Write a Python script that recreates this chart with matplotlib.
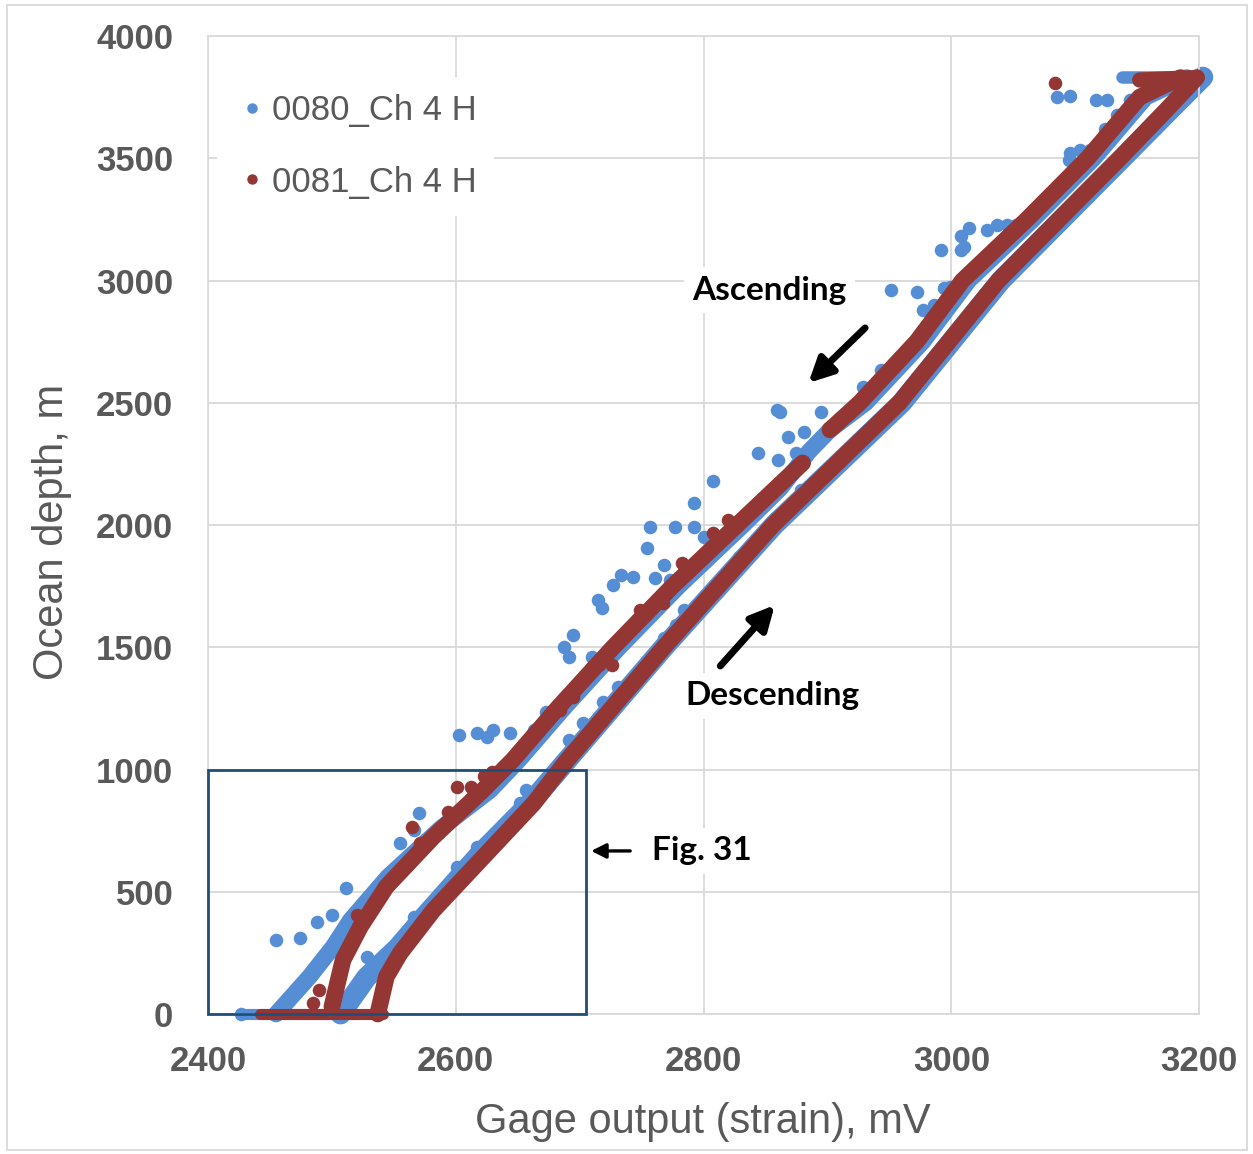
import matplotlib
matplotlib.use("Agg")
import matplotlib.pyplot as plt
from matplotlib.lines import Line2D
from matplotlib.patches import Rectangle

BLUE = "#558ED5"
RED = "#943634"
GRAY = "#595959"
GRID = "#D9D9D9"

# dense parts of the traces, mV vs m
RED_UP1_X = [2500, 2509, 2523, 2544, 2582, 2622, 2646, 2682, 2727, 2775, 2827, 2880]
RED_UP1_Y = [30, 221, 357, 521, 725, 916, 1039, 1250, 1500, 1750, 2000, 2254]
RED_UP2_X = [2902, 2926, 2972, 3009, 3061, 3110, 3152, 3185]
RED_UP2_Y = [2389, 2500, 2750, 3000, 3250, 3500, 3750, 3830]
RED_DOWN_X = [2537, 2544, 2555, 2582, 2625, 2663, 2690, 2768, 2856, 2958, 3038, 3136, 3174, 3198]
RED_DOWN_Y = [0, 153, 248, 425, 657, 862, 1039, 1500, 2000, 2500, 3000, 3500, 3700, 3830]
RED_FLOOR_X = [2442, 2541]
RED_FLOOR_Y = [0, 0]
RED_TOP_X = [3152, 3198]
RED_TOP_Y = [3820, 3830]

BLUE_UP_X = [2455, 2482, 2501, 2515, 2545, 2588, 2628, 2651, 2687, 2732, 2780, 2832,
             2862, 2885, 2902, 2931, 2977, 3014, 3066, 3115, 3157, 3190]
BLUE_UP_Y = [0, 153, 275, 384, 560, 760, 916, 1039, 1250, 1500, 1750, 2000,
             2150, 2300, 2389, 2500, 2750, 3000, 3250, 3500, 3750, 3830]
BLUE_DOWN_X = [2507, 2528, 2553, 2575, 2620, 2660, 2690, 2768, 2857, 2960, 3040, 3138, 3177, 3203]
BLUE_DOWN_Y = [0, 150, 270, 400, 657, 862, 1039, 1500, 2000, 2500, 3000, 3500, 3700, 3832]
BLUE_FLOOR_X = [2427, 2520]
BLUE_FLOOR_Y = [0, 0]
BLUE_TOP_X = [3138, 3202]
BLUE_TOP_Y = [3832, 3832]

# scattered samples away from the main traces
BLUE_PTS_X = [2427, 2455, 2474, 2488, 2500, 2511, 2540, 2570, 2555, 2552, 2566, 2603, 2617,
              2625, 2630, 2644, 2663, 2673, 2687, 2691, 2695, 2710, 2715, 2718, 2727, 2733,
              2743, 2754, 2757, 2768, 2761, 2777, 2792, 2792, 2800, 2773, 2784, 2778, 2768,
              2757, 2731, 2719, 2703, 2691, 2657, 2829, 2807, 2859, 2808, 2951, 2972, 2994,
              2999, 3008, 2992, 2859, 2862, 2895, 2844, 2868, 2881, 2875, 2886, 2897, 2977,
              2986, 2929, 2943, 2860, 2879, 2858, 3085, 3096, 3117, 3126, 3124, 3096, 3104,
              3112, 3095, 3014, 3029, 3037, 3045, 3052, 3008, 3010, 3134, 3144, 2528, 2555,
              2566, 2601, 2617, 2652]
BLUE_PTS_Y = [0, 303, 310, 378, 405, 514, 528, 821, 698, 589, 753, 1141, 1148,
              1134, 1162, 1148, 1162, 1236, 1502, 1461, 1550, 1461, 1693, 1659, 1755, 1796,
              1789, 1905, 1993, 1836, 1782, 1993, 1993, 2089, 1952, 1775, 1652, 1591, 1537,
              1455, 1339, 1277, 1189, 1121, 916, 1870, 1734, 2020, 2180, 2961, 2954, 2968,
              2975, 3125, 3125, 2470, 2463, 2463, 2293, 2361, 2382, 2293, 2307, 2361, 2879,
              2900, 2566, 2634, 2266, 2143, 2027, 3752, 3755, 3738, 3738, 3618, 3520, 3534,
              3534, 3493, 3214, 3207, 3227, 3227, 3227, 3184, 3138, 3677, 3738, 234, 303,
              398, 602, 684, 862]
RED_PTS_X = [3084, 2565, 2571, 2601, 2612, 2594, 2520, 2490, 2485, 2749, 2758, 2767, 2783,
             2710, 2695, 2684, 2808, 2820, 2716, 2726, 2623, 2629]
RED_PTS_Y = [3809, 765, 699, 928, 928, 826, 405, 98, 45, 1652, 1673, 1681, 1845,
             1419, 1297, 1243, 1967, 2020, 1427, 1427, 973, 990]

X_TICKS = [2400, 2600, 2800, 3000, 3200]
Y_TICKS = [0, 500, 1000, 1500, 2000, 2500, 3000, 3500, 4000]
SERIES = ["0080_Ch 4 H", "0081_Ch 4 H"]


def trace(ax, xs, ys, color, lw, z):
    ax.plot(xs, ys, color=color, lw=lw, solid_capstyle="round",
            solid_joinstyle="round", clip_on=False, zorder=z)


fig = plt.figure(figsize=(12.53, 11.54), dpi=100)
ax = fig.add_axes([0.166, 0.1213, 0.791, 0.8475])

# blue (0080) underneath
trace(ax, BLUE_UP_X, BLUE_UP_Y, BLUE, 12, 2)
trace(ax, BLUE_DOWN_X, BLUE_DOWN_Y, BLUE, 15, 2)
trace(ax, BLUE_FLOOR_X, BLUE_FLOOR_Y, BLUE, 8, 2)
trace(ax, BLUE_TOP_X, BLUE_TOP_Y, BLUE, 9, 2)
ax.scatter(BLUE_PTS_X, BLUE_PTS_Y, s=95, color=BLUE, lw=0, clip_on=False, zorder=2)

# red (0081) on top
trace(ax, RED_UP1_X, RED_UP1_Y, RED, 12, 3)
trace(ax, RED_UP2_X, RED_UP2_Y, RED, 12, 3)
trace(ax, RED_DOWN_X, RED_DOWN_Y, RED, 12, 3)
trace(ax, RED_FLOOR_X, RED_FLOOR_Y, RED, 8, 3)
trace(ax, RED_TOP_X, RED_TOP_Y, RED, 11, 3)
ax.scatter(RED_PTS_X, RED_PTS_Y, s=95, color=RED, lw=0, clip_on=False, zorder=3)

ax.set_xlim(2400, 3200)
ax.set_ylim(0, 4000)
ax.set_xticks(X_TICKS)
ax.set_yticks(Y_TICKS)
ax.grid(True, color=GRID, lw=1.3)
ax.set_axisbelow(True)
for s in ax.spines.values():
    s.set_color(GRID)
    s.set_linewidth(1.3)
ax.tick_params(length=0, labelsize=25, labelcolor=GRAY)
ax.tick_params(axis="x", pad=22)
ax.tick_params(axis="y", pad=25)
for lab in ax.get_xticklabels() + ax.get_yticklabels():
    lab.set_fontfamily("Liberation Sans")
    lab.set_fontweight("bold")

ax.set_xlabel("Gage output (strain), mV", fontsize=30, color=GRAY, family="Liberation Sans")
ax.set_ylabel("Ocean depth, m", fontsize=30, color=GRAY, family="Liberation Sans")
ax.xaxis.set_label_coords(0.4995, -0.09)
ax.yaxis.set_label_coords(-0.137, 0.493)

# Fig. 31 zoom box
ax.add_patch(Rectangle((2400, 0), 305, 1000, fill=False, ec="#1F4E79", lw=2.0,
                       clip_on=False, zorder=5))

txt = dict(fontsize=24, family="Lato", fontweight="bold", color="black",
           bbox=dict(fc="white", ec="none", pad=6), zorder=6)
ax.text(2853, 2961, "Ascending", ha="center", va="center", **txt)
ax.text(2856, 1301, "Descending", ha="center", va="center", **txt)
ax.text(2758, 667, "Fig. 31", ha="left", va="center", **txt)

ax.annotate("", xy=(2883, 2573), xytext=(2932, 2814),
            arrowprops=dict(arrowstyle="-|>", lw=5, color="black", mutation_scale=36))
ax.annotate("", xy=(2859, 1681), xytext=(2812, 1415),
            arrowprops=dict(arrowstyle="-|>", lw=5, color="black", mutation_scale=36))
ax.annotate("", xy=(2707, 667), xytext=(2743, 667),
            arrowprops=dict(arrowstyle="-|>", lw=2.4, color="black", mutation_scale=22))

handles = [Line2D([], [], ls="", marker="o", ms=6.5, color=c) for c in (BLUE, RED)]
leg = ax.legend(handles, SERIES, loc="upper left", bbox_to_anchor=(0.009, 0.958),
                borderaxespad=0, frameon=True, labelspacing=1.1, handlelength=1.0,
                handletextpad=0.08, borderpad=0.5,
                prop=dict(family="Liberation Sans", size=25))
leg.get_frame().set_facecolor("white")
leg.get_frame().set_edgecolor("none")
leg.get_frame().set_alpha(1)
for t in leg.get_texts():
    t.set_color(GRAY)

# faint outer border of the original chart area
fig.patches.append(Rectangle((7 / 1253, 4 / 1154), 1240 / 1253, 1145 / 1154,
                             transform=fig.transFigure, fill=False, ec=GRID, lw=1.3))

fig.savefig("out.png", dpi=100)
